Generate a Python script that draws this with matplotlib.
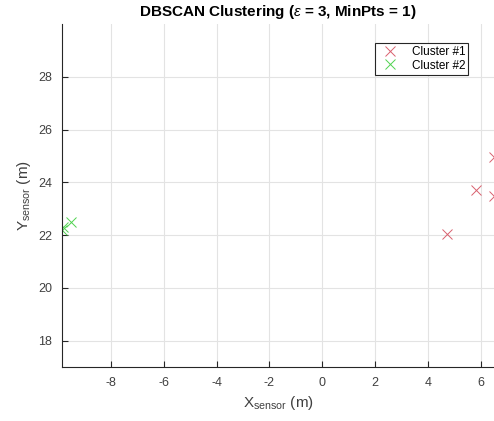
import matplotlib
matplotlib.use('Agg')
import matplotlib.pyplot as plt

# Cluster points
c1_x = [4.73, 5.83, 6.5, 6.5]
c1_y = [22.04, 23.7, 23.5, 24.95]
c2_x = [-9.82, -9.5, -9.85]
c2_y = [22.3, 22.5, 22.2]

xticks = [-8, -6, -4, -2, 0, 2, 4, 6]
yticks = [18, 20, 22, 24, 26, 28]

plt.rcParams['font.family'] = ['Liberation Sans', 'DejaVu Sans']
plt.rcParams['mathtext.fontset'] = 'custom'
plt.rcParams['mathtext.rm'] = 'Liberation Sans'
plt.rcParams['mathtext.it'] = 'Liberation Sans:italic'
plt.rcParams['axes.unicode_minus'] = False

fig = plt.figure(figsize=(4.94, 4.21), dpi=100)
ax = fig.add_axes([62 / 494, 1 - 367 / 421, 432 / 494, 343 / 421])

ax.plot(c1_x, c1_y, 'x', color='#d9606e', markersize=7, mew=0.7, label='Cluster #1')
ax.plot(c2_x, c2_y, 'x', color='#4fd24f', markersize=7, mew=0.7, label='Cluster #2')

ax.set_xlim(-9.85, 6.5)
ax.set_ylim(17, 30)
ax.set_xticks(xticks)
ax.set_yticks(yticks)
ax.grid(True, color='#e3e3e3', linewidth=0.8)
ax.set_axisbelow(True)

ax.spines['top'].set_visible(False)
ax.spines['right'].set_visible(False)
for s in ['left', 'bottom']:
    ax.spines[s].set_color('#262626')
    ax.spines[s].set_linewidth(0.8)
ax.tick_params(direction='in', length=4, colors='#262626', labelcolor='#404040', labelsize=9, pad=7)

ax.set_xlabel(r'X$_{\mathrm{sensor}}$ (m)', fontsize=11, color='#404040')
ax.set_ylabel(r'Y$_{\mathrm{sensor}}$ (m)', fontsize=11, color='#404040')
ax.set_title(r'DBSCAN Clustering ($\epsilon$ = 3, MinPts = 1)', fontsize=11, fontweight='bold', pad=6)

leg = ax.legend(loc='upper right', bbox_to_anchor=(0.94, 0.945), fontsize=8.5, fancybox=False,
                framealpha=1, edgecolor='#262626', borderpad=0.25, labelspacing=0.15,
                handletextpad=0.8, handlelength=2.0, borderaxespad=0)
leg.get_frame().set_linewidth(0.8)

plt.savefig('out.png', dpi=100)
